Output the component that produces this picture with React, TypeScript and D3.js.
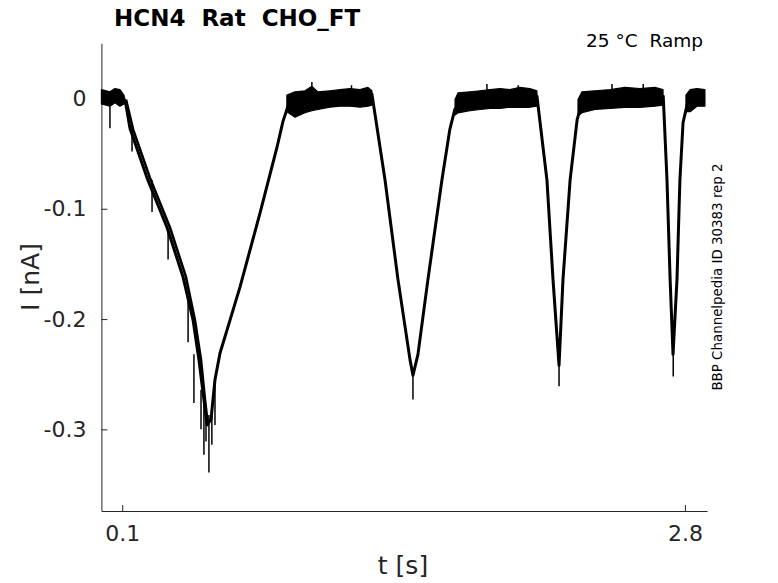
import React, { useEffect, useRef } from "react";
import * as d3 from "d3";

// ---- data ----
const xTicks = [0.1, 2.8];
const yTicks = [-0.3, -0.2, -0.1, 0];

// main (centre) trace: time [s], current [nA]
const traceT = [0, 0.041, 0.104, 0.118, 0.137, 0.219, 0.315, 0.392, 0.44, 0.468, 0.492, 0.507, 0.526, 0.545, 0.569, 0.665, 0.761, 0.843, 0.871, 0.895, 0.919, 1.097, 1.298, 1.361, 1.423, 1.481, 1.495, 1.519, 1.567, 1.634, 1.672, 1.696, 1.72, 1.913, 2.09, 2.138, 2.167, 2.196, 2.215, 2.249, 2.283, 2.307, 2.489, 2.696, 2.714, 2.729, 2.743, 2.762, 2.776, 2.791, 2.815, 2.896];
const traceI = [0.001, 0.002, 0.002, -0.006, -0.027, -0.072, -0.117, -0.162, -0.201, -0.237, -0.273, -0.296, -0.291, -0.255, -0.231, -0.171, -0.104, -0.044, -0.021, -0.007, -0.001, 0.001, 0.004, -0.074, -0.164, -0.237, -0.251, -0.232, -0.164, -0.074, -0.028, -0.01, -0.004, 0.0, 0.002, -0.074, -0.164, -0.242, -0.164, -0.074, -0.019, -0.004, 0.0, 0.002, -0.074, -0.164, -0.232, -0.164, -0.074, -0.022, -0.002, 0.0];

// second sweep on the first descent
const trace2T = [0.118, 0.152, 0.233, 0.329, 0.406, 0.449, 0.478, 0.497, 0.511];
const trace2I = [-0.001, -0.028, -0.072, -0.117, -0.162, -0.201, -0.237, -0.273, -0.296];

// noise envelopes on the plateaus
const bandT = [
  [0, 0.041, 0.065, 0.089, 0.108],
  [0.89, 0.929, 0.977, 1.01, 1.039, 1.097, 1.145, 1.193, 1.241, 1.279, 1.298],
  [1.697, 1.711, 1.769, 1.817, 1.865, 1.913, 1.96, 2.008, 2.056, 2.09],
  [2.287, 2.306, 2.369, 2.441, 2.512, 2.584, 2.656, 2.695],
  [2.805, 2.825, 2.858, 2.896],
];
const bandHi = [
  [0.008, 0.006, 0.009, 0.008, 0.003],
  [0.003, 0.006, 0.007, 0.011, 0.006, 0.007, 0.008, 0.009, 0.008, 0.01, 0.007],
  [-0.001, 0.005, 0.006, 0.007, 0.008, 0.009, 0.008, 0.01, 0.009, 0.007],
  [-0.001, 0.006, 0.007, 0.008, 0.01, 0.009, 0.01, 0.008],
  [0.003, 0.008, 0.009, 0.008],
];
const bandLo = [
  [-0.005, -0.007, -0.004, -0.007, -0.005],
  [-0.012, -0.017, -0.013, -0.011, -0.01, -0.008, -0.007, -0.007, -0.008, -0.007, -0.006],
  [-0.015, -0.013, -0.011, -0.01, -0.009, -0.009, -0.008, -0.008, -0.008, -0.007],
  [-0.016, -0.013, -0.01, -0.009, -0.008, -0.008, -0.007, -0.006],
  [-0.012, -0.012, -0.007, -0.007],
];

// isolated noise spikes
const spikeT = [0.041, 0.147, 0.243, 0.32, 0.416, 0.444, 0.478, 0.492, 0.502, 0.516, 0.53, 0.545, 1.01, 1.2, 1.495, 1.85, 2.0, 2.196, 2.45, 2.6, 2.744];
const spikeTop = [0.001, -0.026, -0.074, -0.119, -0.18, -0.232, -0.264, -0.273, -0.282, -0.287, -0.278, -0.26, 0.006, 0.006, -0.251, 0.006, 0.006, -0.242, 0.006, 0.006, -0.232];
const spikeBottom = [-0.027, -0.048, -0.103, -0.146, -0.221, -0.276, -0.3, -0.323, -0.311, -0.339, -0.314, -0.296, 0.015, 0.012, -0.273, 0.013, 0.012, -0.261, 0.013, 0.013, -0.252];

const W = 778;
const H = 583;
const FONT = "'DejaVu Sans', sans-serif";
const AX = "#262626";

export default function App() {
  const gx = useRef<SVGGElement>(null);
  const gy = useRef<SVGGElement>(null);

  const x = d3.scaleLinear().domain([0, 2.906]).range([101.4, 707]);
  const y = d3.scaleLinear().domain([-0.374, 0.05]).range([511, 43.3]);

  useEffect(() => {
    const xa = d3
      .axisBottom(x)
      .tickValues(xTicks)
      .tickSizeInner(-6)
      .tickSizeOuter(0)
      .tickPadding(14)
      .tickFormat((d) => d3.format(".1f")(d as number));
    const sx = d3.select(gx.current!);
    sx.call(xa as any);
    sx.select(".domain").attr("stroke", AX).attr("stroke-width", 1);
    sx.selectAll(".tick line").attr("stroke", AX);
    sx.selectAll(".tick text")
      .attr("fill", AX)
      .attr("font-size", 22)
      .attr("font-family", FONT);

    const ya = d3
      .axisLeft(y)
      .tickValues(yTicks)
      .tickSizeInner(-6)
      .tickSizeOuter(0)
      .tickPadding(15)
      .tickFormat((d) => ((d as number) === 0 ? "0" : d3.format(".1f")(d as number).replace("−", "-")));
    const sy = d3.select(gy.current!);
    sy.call(ya as any);
    sy.select(".domain").attr("stroke", AX).attr("stroke-width", 1);
    sy.selectAll(".tick line").attr("stroke", AX);
    sy.selectAll(".tick text")
      .attr("fill", AX)
      .attr("font-size", 22)
      .attr("font-family", FONT);
  }, []);

  const line = d3
    .line<[number, number]>()
    .x((d) => x(d[0]))
    .y((d) => y(d[1]));

  const mainPts = traceT.map((t, i) => [t, traceI[i]] as [number, number]);
  const pts2 = trace2T.map((t, i) => [t, trace2I[i]] as [number, number]);

  const bandPaths = bandT.map((ts, k) => {
    const a = d3
      .area<number>()
      .x((t) => x(t))
      .y0((_, i) => y(bandLo[k][i]))
      .y1((_, i) => y(bandHi[k][i]));
    return a(ts) || "";
  });

  return (
    <svg
      width={W}
      height={H}
      style={{ position: "absolute", left: 0, top: 0, background: "#fff" }}
    >
      <rect width={W} height={H} fill="#fff" />
      <g transform="translate(0,511)" ref={gx} />
      <g transform="translate(101.4,0)" ref={gy} />

      {bandPaths.map((p, k) => (
        <path key={k} d={p} fill="#000" stroke="#000" strokeWidth={1.2} strokeLinejoin="round" />
      ))}
      <path d={line(pts2) || ""} fill="none" stroke="#000" strokeWidth={2.6} strokeLinejoin="round" />
      <path d={line(mainPts) || ""} fill="none" stroke="#000" strokeWidth={3} strokeLinejoin="round" />
      {spikeT.map((t, i) => (
        <line
          key={i}
          x1={x(t)}
          x2={x(t)}
          y1={y(spikeTop[i])}
          y2={y(spikeBottom[i])}
          stroke="#000"
          strokeWidth={1.5}
        />
      ))}

      <text x={114} y={26} fontFamily={FONT} fontWeight="bold" fontSize={23} fill="#000" style={{ whiteSpace: "pre" }}>
        {"HCN4  Rat  CHO_FT"}
      </text>
      <text x={703} y={47} textAnchor="end" fontFamily={FONT} fontSize={18.5} fill="#000" style={{ whiteSpace: "pre" }}>
        {"25 °C  Ramp"}
      </text>
      <text
        transform="translate(722,277) rotate(-90)"
        textAnchor="middle"
        fontFamily={FONT}
        fontSize={13.4}
        fill="#000"
      >
        BBP Channelpedia ID 30383 rep 2
      </text>
      <text
        transform="translate(39,277) rotate(-90)"
        textAnchor="middle"
        fontFamily={FONT}
        fontSize={25}
        fill={AX}
      >
        I [nA]
      </text>
      <text x={403} y={574} textAnchor="middle" fontFamily={FONT} fontSize={25} fill={AX}>
        t [s]
      </text>
    </svg>
  );
}
